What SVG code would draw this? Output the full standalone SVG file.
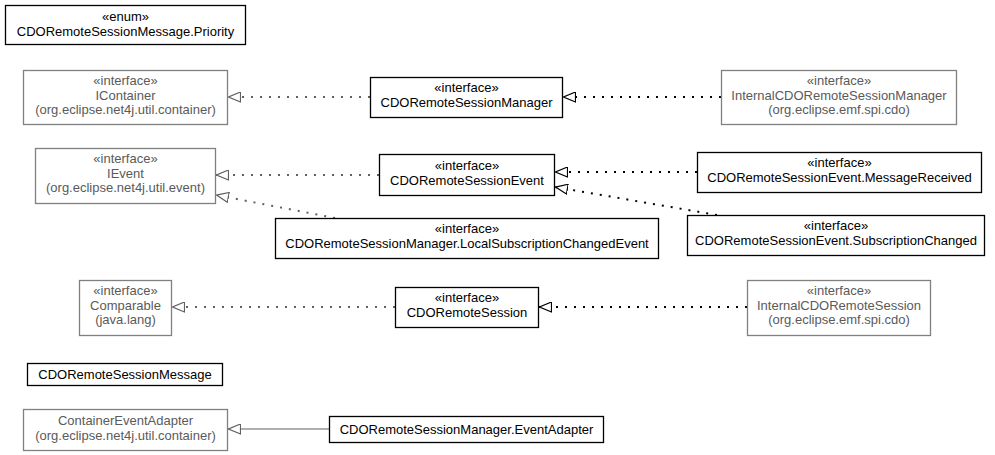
<svg xmlns="http://www.w3.org/2000/svg" width="995" height="455" viewBox="0 0 995 455">
  <defs>
    <style>
      .box { fill: #ffffff; stroke: #000000; stroke-width: 1.3; }
      .ext { fill: #ffffff; stroke: #808080; stroke-width: 1.3; }
      text { font-family: "Liberation Sans", Arial, sans-serif; font-size: 13px; text-anchor: middle; fill: #000000; }
      .ext-t { fill: #5a5a5a; }
      .dot { fill: none; stroke-width: 2; stroke-dasharray: 2 7; }
      .solid { fill: none; stroke-width: 1.2; }
      .blk { stroke: #000000; }
      .gry { stroke: #606060; }
    </style>
    <marker id="tri-blk" viewBox="0 0 13 11" refX="13" refY="5.5" markerWidth="13" markerHeight="11" markerUnits="userSpaceOnUse" orient="auto">
      <path d="M0.5,0.5 L12.5,5.5 L0.5,10.5 Z" fill="#ffffff" stroke="#000000" stroke-width="1.2"/>
    </marker>
    <marker id="tri-gry" viewBox="0 0 13 11" refX="13" refY="5.5" markerWidth="13" markerHeight="11" markerUnits="userSpaceOnUse" orient="auto">
      <path d="M0.5,0.5 L12.5,5.5 L0.5,10.5 Z" fill="#ffffff" stroke="#606060" stroke-width="1.2"/>
    </marker>
  </defs>

  <!-- connectors -->
  <g id="edges">
    <line class="dot gry" x1="370" y1="97" x2="228" y2="97" marker-end="url(#tri-gry)"/>
    <line class="dot blk" x1="721" y1="97" x2="563" y2="97" marker-end="url(#tri-blk)"/>
    <line class="dot gry" x1="379" y1="175" x2="216" y2="175" marker-end="url(#tri-gry)"/>
    <line class="dot gry" x1="335" y1="218" x2="216" y2="195" marker-end="url(#tri-gry)"/>
    <line class="dot blk" x1="697" y1="172" x2="555" y2="172" marker-end="url(#tri-blk)"/>
    <line class="dot blk" x1="717" y1="215" x2="555" y2="187" marker-end="url(#tri-blk)"/>
    <line class="dot gry" x1="395" y1="307" x2="172" y2="307" marker-end="url(#tri-gry)"/>
    <line class="dot blk" x1="747" y1="307" x2="539" y2="307" marker-end="url(#tri-blk)"/>
    <line class="solid gry" x1="329" y1="429" x2="228" y2="429" marker-end="url(#tri-gry)"/>
  </g>

  <g id="priority">
    <rect class="box" x="5.5" y="5.5" width="240" height="39"/>
    <text x="125.5" y="21">«enum»</text>
    <text x="125.5" y="36">CDORemoteSessionMessage.Priority</text>
  </g>

  <g id="icontainer">
    <rect class="ext" x="23.5" y="70.5" width="204" height="54"/>
    <text class="ext-t" x="125.5" y="85">«interface»</text>
    <text class="ext-t" x="125.5" y="100">IContainer</text>
    <text class="ext-t" x="125.5" y="114">(org.eclipse.net4j.util.container)</text>
  </g>

  <g id="session-manager">
    <rect class="box" x="370.5" y="77.5" width="192" height="40"/>
    <text x="466.5" y="92">«interface»</text>
    <text x="466.5" y="107">CDORemoteSessionManager</text>
  </g>

  <g id="internal-session-manager">
    <rect class="ext" x="721.5" y="70.5" width="235" height="54"/>
    <text class="ext-t" x="839" y="85">«interface»</text>
    <text class="ext-t" x="839" y="100">InternalCDORemoteSessionManager</text>
    <text class="ext-t" x="839" y="114">(org.eclipse.emf.spi.cdo)</text>
  </g>

  <g id="ievent">
    <rect class="ext" x="35.5" y="148.5" width="180" height="55"/>
    <text class="ext-t" x="125.5" y="163">«interface»</text>
    <text class="ext-t" x="125.5" y="178">IEvent</text>
    <text class="ext-t" x="125.5" y="192">(org.eclipse.net4j.util.event)</text>
  </g>

  <g id="session-event">
    <rect class="box" x="379.5" y="154.5" width="175" height="41"/>
    <text x="467" y="170">«interface»</text>
    <text x="467" y="185">CDORemoteSessionEvent</text>
  </g>

  <g id="message-received">
    <rect class="box" x="697.5" y="152.5" width="284" height="40"/>
    <text x="839.5" y="167">«interface»</text>
    <text x="839.5" y="182">CDORemoteSessionEvent.MessageReceived</text>
  </g>

  <g id="subscription-changed">
    <rect class="box" x="687.5" y="215.5" width="297" height="40"/>
    <text x="836" y="230">«interface»</text>
    <text x="836" y="245">CDORemoteSessionEvent.SubscriptionChanged</text>
  </g>

  <g id="local-subscription-changed">
    <rect class="box" x="275.5" y="218.5" width="383" height="40"/>
    <text x="467" y="233">«interface»</text>
    <text x="467" y="248">CDORemoteSessionManager.LocalSubscriptionChangedEvent</text>
  </g>

  <g id="comparable">
    <rect class="ext" x="79.5" y="280.5" width="92" height="55"/>
    <text class="ext-t" x="125.5" y="295">«interface»</text>
    <text class="ext-t" x="125.5" y="310">Comparable</text>
    <text class="ext-t" x="125.5" y="324">(java.lang)</text>
  </g>

  <g id="remote-session">
    <rect class="box" x="395.5" y="287.5" width="143" height="40"/>
    <text x="467" y="302">«interface»</text>
    <text x="467" y="317">CDORemoteSession</text>
  </g>

  <g id="internal-remote-session">
    <rect class="ext" x="747.5" y="280.5" width="183" height="55"/>
    <text class="ext-t" x="839" y="295">«interface»</text>
    <text class="ext-t" x="839" y="310">InternalCDORemoteSession</text>
    <text class="ext-t" x="839" y="324">(org.eclipse.emf.spi.cdo)</text>
  </g>

  <g id="remote-session-message">
    <rect class="box" x="27.5" y="363.5" width="195" height="22"/>
    <text x="125" y="379">CDORemoteSessionMessage</text>
  </g>

  <g id="container-event-adapter">
    <rect class="ext" x="23.5" y="409.5" width="204" height="41"/>
    <text class="ext-t" x="125.5" y="425">ContainerEventAdapter</text>
    <text class="ext-t" x="125.5" y="440">(org.eclipse.net4j.util.container)</text>
  </g>

  <g id="event-adapter">
    <rect class="box" x="329.5" y="416.5" width="274" height="26"/>
    <text x="466.5" y="434">CDORemoteSessionManager.EventAdapter</text>
  </g>
</svg>
